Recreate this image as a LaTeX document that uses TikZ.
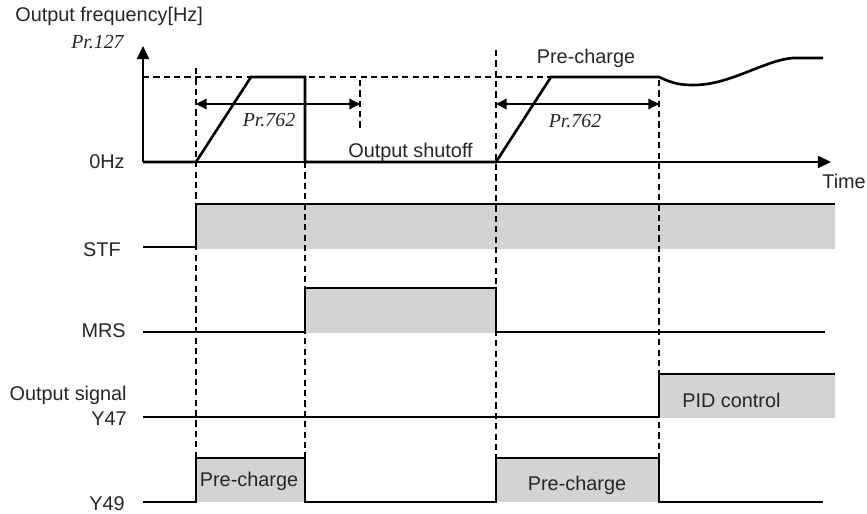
\documentclass[tikz,border=0pt]{standalone}
\usepackage{fontspec}
\setmainfont{Liberation Sans}
\newfontfamily\prfont{Liberation Serif}
\usetikzlibrary{arrows.meta}
\definecolor{sigfill}{RGB}{209,211,212}
\newcommand{\prm}[1]{{\prfont\itshape Pr.#1}}

\begin{document}
\begin{tikzpicture}[x=0.02cm,y=-0.02cm,font=\fontsize{11.3}{13.5}\selectfont,
sig/.style={line width=1.5pt,line join=miter},
axis/.style={line width=0.7pt,-{Triangle[length=7.5pt,width=7pt]}},
guide/.style={line width=0.6pt,dash pattern=on 3.5pt off 2.4pt},
dim/.style={line width=0.7pt,{Triangle[length=6pt,width=6pt]}-{Triangle[length=6pt,width=6pt]}},
lbl/.style={inner sep=0pt,text=black!85}]
\useasboundingbox (0,0) rectangle (867,514);
% gray high-level areas
\fill[sigfill] (196,204) rectangle (835,249);
\fill[sigfill] (305,288) rectangle (496,333);
\fill[sigfill] (659,374) rectangle (835,418);
\fill[sigfill] (196,458) rectangle (305,502);
\fill[sigfill] (496,458) rectangle (659,502);
% timing guides
\foreach \x/\t in {196/68,305/162,496/50,659/80}
  \draw[guide] (\x,\t) -- (\x,502);
\draw[guide] (143,77) -- (551,77);
\draw[guide] (360,80) -- (360,128);
% frequency axes and curve
\draw[axis] (143,162) -- (143,46);
\draw[axis] (143,162) -- (831,162);
\draw[sig] (143,162) -- (196,162) -- (251,77) -- (305,77) -- (305,162) -- (496,162)
  -- (551,77) -- (659,77) .. controls (674,84) and (681,85) .. (694,85)
  .. controls (730,85) and (765,60) .. (793,58) -- (823,58);
\draw[dim] (196,104) -- (360,104);
\draw[dim] (496,104) -- (659,104);
% signals
\draw[sig] (143,247) -- (196,247) -- (196,204) -- (835,204);
\draw[sig] (143,332) -- (305,332) -- (305,288) -- (496,288) -- (496,332) -- (825,332);
\draw[sig] (143,417) -- (659,417) -- (659,374) -- (835,374);
\draw[sig] (143,502) -- (196,502) -- (196,458) -- (305,458) -- (305,502) -- (496,502)
  -- (496,458) -- (659,458) -- (659,502) -- (823,502);
% texts
\node[lbl,anchor=base west] (freq) at (15,21) {Output frequency[Hz]};
\node[lbl,anchor=base east] (prmax) at (124,48) {\prm{127}};
\node[lbl,anchor=base east] (zero) at (125,168) {0Hz};
\node[lbl,anchor=base] (prfirst) at (269,126) {\prm{762}};
\node[lbl,anchor=base] (prsecond) at (575,127) {\prm{762}};
\node[lbl,anchor=base west] (shutoff) at (348,157) {Output shutoff};
\node[lbl,anchor=base] (pretop) at (586,63) {Pre-charge};
\node[lbl,anchor=base west] (time) at (822,188) {Time};
\node[lbl,anchor=base east] (stf) at (121,256) {STF};
\node[lbl,anchor=base east] (mrs) at (126,337) {MRS};
\node[lbl,anchor=base east] (outsig) at (127,400) {Output signal};
\node[lbl,anchor=base east] (yfs) at (127,425) {Y47};
\node[lbl,anchor=base east] (yfn) at (125,510) {Y49};
\node[lbl,anchor=base] (prefirst) at (249,486) {Pre-charge};
\node[lbl,anchor=base] (presecond) at (577,490) {Pre-charge};
\node[lbl,anchor=base west] (pid) at (682,407) {PID control};
\end{tikzpicture}
\end{document}
